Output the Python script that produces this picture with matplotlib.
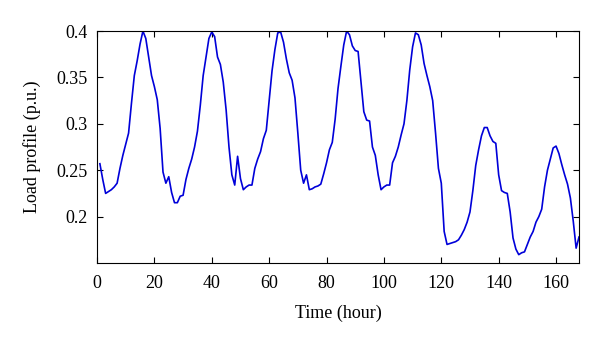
import matplotlib
matplotlib.use("Agg")
import matplotlib.pyplot as plt
from matplotlib.ticker import FuncFormatter

# hourly load profile over one week (hours 1..168)
hours = list(range(1, 169))
load = [
    # day 1
    0.257, 0.240, 0.225, 0.227, 0.229, 0.232, 0.236, 0.252, 0.266, 0.278, 0.290, 0.322,
    0.352, 0.368, 0.386, 0.400, 0.392, 0.372, 0.352, 0.340, 0.326, 0.295, 0.248, 0.236,
    # day 2
    0.243, 0.226, 0.215, 0.215, 0.222, 0.223, 0.240, 0.252, 0.262, 0.275, 0.292, 0.320,
    0.352, 0.372, 0.392, 0.399, 0.394, 0.372, 0.364, 0.345, 0.315, 0.275, 0.245, 0.234,
    # day 3
    0.265, 0.241, 0.229, 0.232, 0.234, 0.234, 0.252, 0.262, 0.270, 0.284, 0.293, 0.325,
    0.357, 0.380, 0.398, 0.399, 0.388, 0.370, 0.355, 0.347, 0.328, 0.290, 0.250, 0.236,
    # day 4
    0.245, 0.229, 0.230, 0.232, 0.233, 0.235, 0.246, 0.258, 0.272, 0.280, 0.305, 0.338,
    0.362, 0.385, 0.400, 0.396, 0.384, 0.379, 0.378, 0.345, 0.313, 0.304, 0.303, 0.275,
    # day 5
    0.266, 0.245, 0.229, 0.232, 0.234, 0.234, 0.258, 0.265, 0.275, 0.288, 0.300, 0.325,
    0.358, 0.383, 0.398, 0.396, 0.385, 0.365, 0.352, 0.340, 0.325, 0.290, 0.252, 0.236,
    # day 6
    0.184, 0.170, 0.171, 0.172, 0.173, 0.175, 0.180, 0.186, 0.194, 0.205, 0.228, 0.255,
    0.272, 0.287, 0.296, 0.296, 0.287, 0.281, 0.279, 0.245, 0.228, 0.226, 0.225, 0.205,
    # day 7
    0.177, 0.165, 0.159, 0.161, 0.162, 0.170, 0.178, 0.184, 0.194, 0.200, 0.208, 0.232,
    0.250, 0.262, 0.274, 0.276, 0.268, 0.256, 0.245, 0.235, 0.220, 0.195, 0.166, 0.178,
]

x_ticks = [0, 20, 40, 60, 80, 100, 120, 140, 160]
y_ticks = [0.2, 0.25, 0.3, 0.35, 0.4]

plt.rcParams['font.family'] = ['Liberation Serif', 'DejaVu Serif']

fig = plt.figure(figsize=(6, 3.45), dpi=100)
ax = fig.add_axes([0.1617, 0.2377, 0.8033, 0.6723])

ax.plot(hours, load, color=(0.0, 0.0, 0.85), linewidth=1.2)

ax.set_xlim(0, 168)
ax.set_ylim(0.15, 0.4)
ax.set_xticks(x_ticks)
ax.set_yticks(y_ticks)
ax.yaxis.set_major_formatter(FuncFormatter(lambda v, p: ('%g' % v)))
ax.tick_params(direction='in', top=True, right=True, length=4, width=0.8,
               labelsize=13)
ax.tick_params(axis='x', pad=9)
ax.tick_params(axis='y', pad=7)
for s in ax.spines.values():
    s.set_linewidth(0.8)

ax.set_xlabel('Time (hour)', fontsize=13, labelpad=9)
ax.set_ylabel('Load profile (p.u.)', fontsize=13, labelpad=11)

fig.savefig('out.png', dpi=100)
